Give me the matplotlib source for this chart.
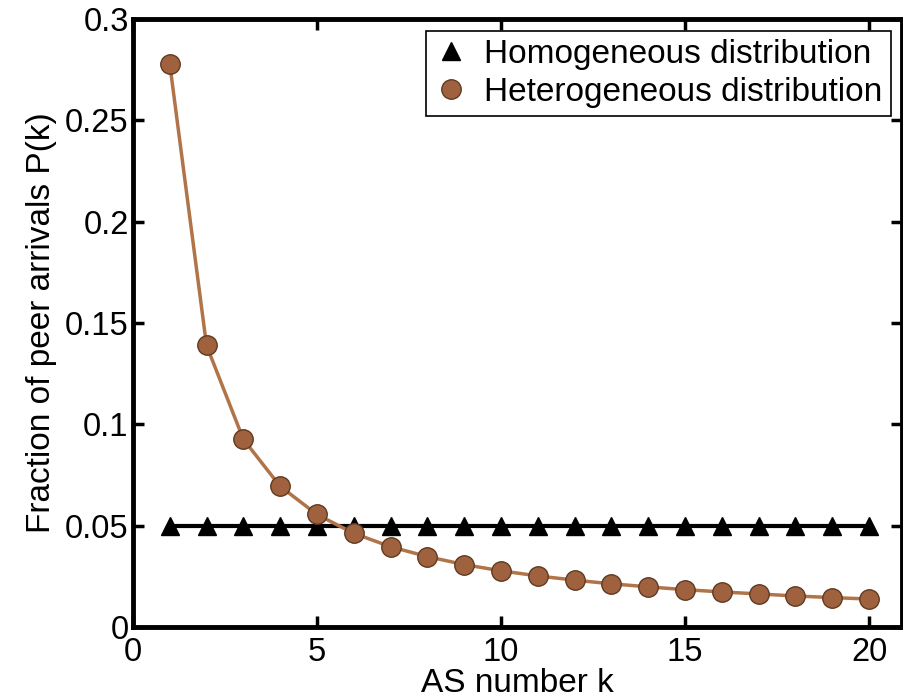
import matplotlib
matplotlib.use("Agg")
import matplotlib.pyplot as plt

plt.rcParams['font.family'] = ['Liberation Sans', 'DejaVu Sans']

k = list(range(1, 21))
homogeneous = [0.05] * 20
heterogeneous = [0.278, 0.139, 0.0927, 0.0695, 0.0556, 0.0463, 0.0397, 0.0348,
                 0.0309, 0.0278, 0.0253, 0.0232, 0.0214, 0.0199, 0.0185, 0.0174,
                 0.0164, 0.0154, 0.0146, 0.0139]

brown_face = '#a0623e'
brown_edge = '#5e3a22'
brown_line = '#b07448'

fig = plt.figure(figsize=(9.04, 7.0), dpi=100)
ax = fig.add_axes([0.147, 0.104, 0.851, 0.869])

ax.plot(k, homogeneous, color='black', linewidth=3, zorder=2)
ax.plot(k, homogeneous, linestyle='none', marker='^', markersize=13,
        color='black', label='Homogeneous distribution', zorder=3)
ax.plot(k, heterogeneous, color=brown_line, linewidth=2.5, zorder=4)
ax.plot(k, heterogeneous, linestyle='none', marker='o', markersize=14,
        markerfacecolor=brown_face, markeredgecolor=brown_edge, markeredgewidth=1,
        label='Heterogeneous distribution', zorder=5)

ax.set_xlim(0, 20.9)
ax.set_ylim(0, 0.3)
ax.set_xticks([0, 5, 10, 15, 20])
ax.set_yticks([0, 0.05, 0.1, 0.15, 0.2, 0.25, 0.3])
ax.set_yticklabels(['0', '0.05', '0.1', '0.15', '0.2', '0.25', '0.3'])
ax.tick_params(direction='in', length=8, width=2.5, labelsize=23.5,
               top=True, right=True)
ax.tick_params(axis='y', pad=3)
ax.tick_params(axis='x', pad=7)
for s in ax.spines.values():
    s.set_linewidth(3.5)

ax.set_xlabel('AS number k', fontsize=24, labelpad=0)
ax.set_ylabel('Fraction of peer arrivals P(k)', fontsize=24, labelpad=6)

leg = ax.legend(loc='upper right', fontsize=24, numpoints=1, fancybox=False,
                framealpha=1, edgecolor='black', borderpad=0.25,
                handletextpad=0.5, labelspacing=0.2, handlelength=1.0,
                borderaxespad=0.35)
leg.get_frame().set_linewidth(1.2)

fig.savefig('out.png', dpi=100)
